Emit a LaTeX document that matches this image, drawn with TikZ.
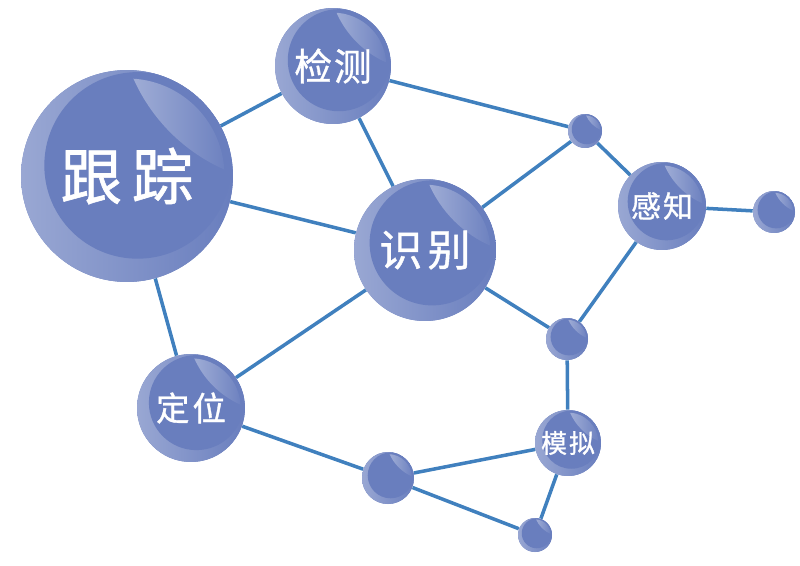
\documentclass[tikz,border=0pt]{standalone}
\usepackage{fontspec}
\newfontfamily\cjk{Noto Sans CJK SC}[FakeBold=1]
\usetikzlibrary{backgrounds}

\definecolor{ballblue}{RGB}{105,126,190}
\definecolor{linkblue}{RGB}{64,128,190}

\tikzset{
  ball/.style={circle, inner sep=0pt, minimum size=#1*0.04cm, fill=ballblue, text=white,
    path picture={
      \coordinate (pc) at (path picture bounding box.center);
      % light rim at lower left
      \shade[left color=ballblue!68!white, right color=ballblue] (pc) circle (#1);
      \fill[ballblue] ([shift={(0.1*#1,-0.1*#1)}]pc) circle (0.88*#1);
      % gloss at upper right
      \begin{scope}
        \clip (pc) circle (0.92*#1);
        \clip ([shift={(1.6*#1,-1.6*#1)}]pc) circle (1.683*#1);
        \shade[left color=ballblue!62!white, right color=ballblue]
          ([shift={(0,-#1)}]pc) rectangle ([shift={(#1,0.1*#1)}]pc);
      \end{scope}}},
  link/.style={draw=linkblue, line width=2pt}
}

\begin{document}
\begin{tikzpicture}[x=0.02cm,y=-0.02cm]
\useasboundingbox (0,0) rectangle (800,565);

\node[ball=106, font=\cjk\fontsize{35}{35}\selectfont] (track) at (127,176) {跟\hspace{.16em}踪};
\node[ball=58, font=\cjk\fontsize{21.5}{22}\selectfont] (detect) at (333,66) {检\hspace{.05em}测};
\node[ball=71, font=\cjk\fontsize{24.5}{25}\selectfont] (recog) at (425,250) {识\hspace{.12em}别};
\node[ball=54, font=\cjk\fontsize{19}{19}\selectfont] (locate) at (191,408) {定\hspace{.09em}位};
\node[ball=44, font=\cjk\fontsize{17}{17}\selectfont] (sense) at (662,206) {感\hspace{.07em}知};
\node[ball=33, font=\cjk\fontsize{14.7}{15}\selectfont] (simul) at (568,443) {模\hspace{.08em}拟};

\node[ball=17] (jA) at (585,131) {};
\node[ball=21] (jB) at (774,212) {};
\node[ball=21] (jC) at (567,339) {};
\node[ball=26] (jD) at (388,478) {};
\node[ball=17] (jE) at (535,535) {};

\begin{scope}[on background layer]
\draw[link] (track) -- (detect);
\draw[link] (track) -- (recog);
\draw[link] (track) -- (locate);
\draw[link] (detect) -- (recog);
\draw[link] (detect) -- (jA);
\draw[link] (recog) -- (jA);
\draw[link] (jA) -- (sense);
\draw[link] (sense) -- (jB);
\draw[link] (sense) -- (jC);
\draw[link] (recog) -- (jC);
\draw[link] (recog) -- (locate);
\draw[link] (jC) -- (simul);
\draw[link] (locate) -- (jD);
\draw[link] (jD) -- (simul);
\draw[link] (jD) -- (jE);
\draw[link] (jE) -- (simul);
\end{scope}
\end{tikzpicture}
\end{document}
